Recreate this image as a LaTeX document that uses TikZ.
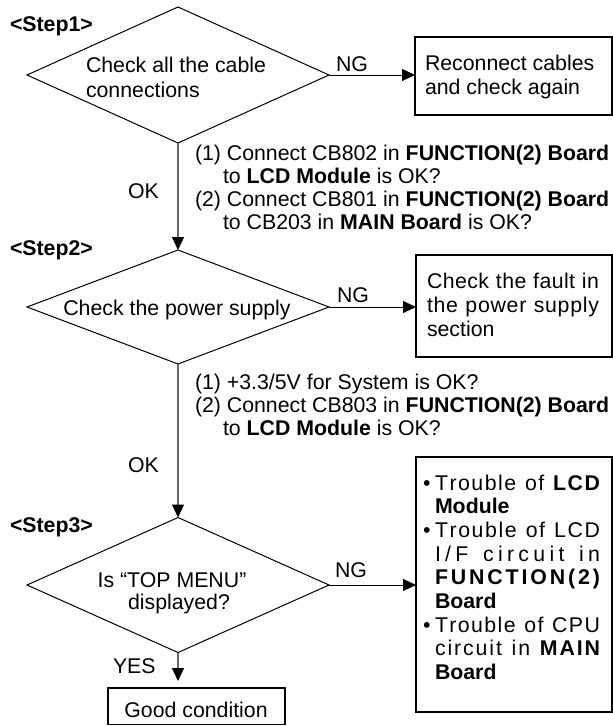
\documentclass[tikz,border=0pt]{standalone}
\usepackage{fontspec}
\setmainfont{Liberation Sans}
\usetikzlibrary{shapes.geometric,arrows.meta}
\def\myB{\bfseries}
\def\spread#1{\spreadaux#1\relax}
\def\spreadaux#1{\ifx#1\relax\unskip\else\ifx#1\myB\bfseries\else#1\hfil\fi\expandafter\spreadaux\fi}
\begin{document}
\begin{tikzpicture}[x=1pt,y=-1pt,
  every node/.style={font=\fontsize{21.3}{24}\selectfont, inner sep=0pt, outer sep=0pt},
  dia/.style={draw, diamond, line width=1pt},
  box/.style={draw, rectangle, line width=1.3pt},
  txt/.style={anchor=base west},
  ctxt/.style={anchor=base},
  bold/.style={font=\fontsize{21.3}{24}\selectfont\bfseries},
  tip/.style={-{Triangle[length=13pt,width=12pt,color=black]}},
  vconn/.style={tip, draw=black!60, line width=1.2pt},
  hconn/.style={tip, draw=black, line width=1pt}]
\useasboundingbox (0,0) rectangle (613,726);

% shapes
\node[dia, minimum width=302pt, minimum height=136pt] (d1) at (178,75) {};
\node[dia, minimum width=302pt, minimum height=114pt] (d2) at (178,307) {};
\node[dia, minimum width=302pt, minimum height=135pt] (d3) at (178,585) {};
\node[box, minimum width=197pt, minimum height=78pt] (b1) at (513.5,76) {};
\node[box, minimum width=196pt, minimum height=102pt] (b2) at (514,306) {};
\node[box, minimum width=196pt, minimum height=255pt] (b3) at (514,584.5) {};
\node[box, minimum width=177pt, minimum height=36.5pt] (b4) at (196.5,706.25) {};

% connectors
\draw[vconn] (d1.south) -- (d2.north);
\draw[vconn] (d2.south) -- (d3.north);
\draw[vconn, shorten >=7pt] (d3.south) -- (d3.south |- b4.north);
\draw[hconn] (d1.east) -- (d1.east -| b1.west);
\draw[hconn] (d2.east) -- (d2.east -| b2.west);
\draw[hconn] (d3.east) -- (d3.east -| b3.west);

% step labels
\node[txt, bold] (s1) at (10,31) {<Step1>};
\node[txt, bold] (s2) at (10,255) {<Step2>};
\node[txt, bold] (s3) at (10,532) {<Step3>};

% diamond texts
\node[txt] (d1a) at (86,72) {Check all the cable};
\node[txt] (d1b) at (86,97) {connections};
\node[ctxt] (d2a) at (177,315) {Check the power supply};
\node[ctxt] (d3a) at (172,587) {Is “TOP MENU”};
\node[ctxt] (d3b) at (179,609) {displayed?};

% edge labels
\node[txt] (ng1) at (336,71) {NG};
\node[txt] (ng2) at (337,302) {NG};
\node[txt] (ng3) at (335,577) {NG};
\node[txt] (ok1) at (128,198) {OK};
\node[txt] (ok2) at (128,472) {OK};
\node[txt] (yes) at (113,673) {YES};

% condition notes
\node[txt] (c1a) at (195,160) {(1) Connect CB802 in \textbf{FUNCTION(2) Board}};
\node[txt] (c1b) at (223,183) {to \textbf{LCD Module} is OK?};
\node[txt] (c1c) at (195,206) {(2) Connect CB801 in \textbf{FUNCTION(2) Board}};
\node[txt] (c1d) at (223,229) {to CB203 in \textbf{MAIN Board} is OK?};
\node[txt] (c2a) at (195,389) {(1) +3.3/5V for System is OK?};
\node[txt] (c2b) at (195,412) {(2) Connect CB803 in \textbf{FUNCTION(2) Board}};
\node[txt] (c2c) at (223,435) {to \textbf{LCD Module} is OK?};

% box texts
\node[txt] (b1a) at (425,70) {Reconnect cables};
\node[txt] (b1b) at (425,94) {and check again};
\node[txt] (b2a) at (427,288) {\hbox to 172pt{\spread{Check~the~fault~in}}};
\node[txt] (b2b) at (427,312) {\hbox to 172pt{\spread{the~power~supply}}};
\node[txt] (b2c) at (427,336) {section};

\node[txt] (u1) at (423,490) {•};
\node[txt] (b3a) at (435,490) {\hbox to 165pt{\spread{Trouble~of~\myB LCD}}};
\node[txt] (b3b) at (435,513.7) {\textbf{Module}};
\node[txt] (u2) at (423,537.4) {•};
\node[txt] (b3c) at (435,537.4) {\hbox to 165pt{\spread{Trouble~of~LCD}}};
\node[txt] (b3d) at (435,561.1) {\hbox to 165pt{\spread{I/F~circuit~in}}};
\node[txt] (b3e) at (435,584.8) {\hbox to 165pt{\spread{\myB FUNCTION(2)}}};
\node[txt] (b3f) at (435,608.5) {\textbf{Board}};
\node[txt] (u3) at (423,632.2) {•};
\node[txt] (b3g) at (435,632.2) {\hbox to 165pt{\spread{Trouble~of~CPU}}};
\node[txt] (b3h) at (435,655.9) {\hbox to 165pt{\spread{circuit~in~\myB MAIN}}};
\node[txt] (b3i) at (435,679.6) {\textbf{Board}};

\node[ctxt] (b4a) at (196,717) {Good condition};
\end{tikzpicture}
\end{document}
